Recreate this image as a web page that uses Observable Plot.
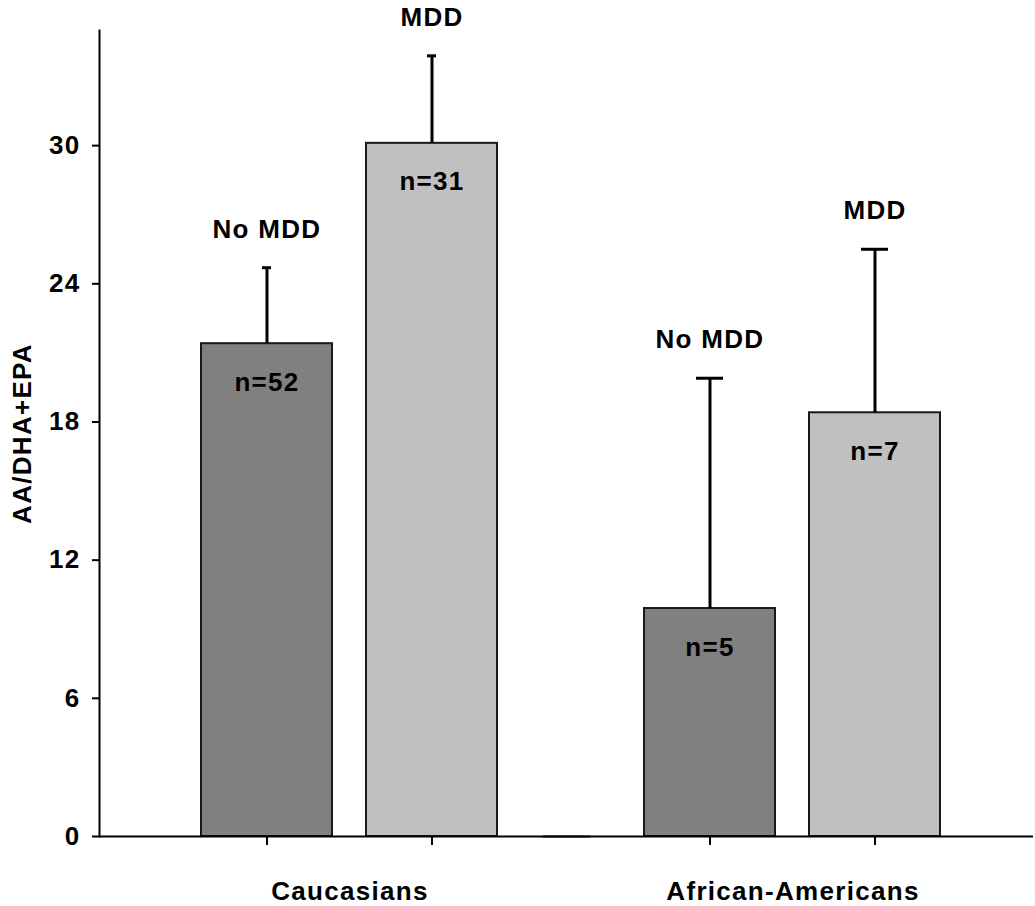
<!DOCTYPE html>
<html><head><meta charset="utf-8">
<script src="https://cdn.jsdelivr.net/npm/d3@7"></script>
<script src="https://cdn.jsdelivr.net/npm/@observablehq/plot@0.6"></script>
<style>body{margin:0;background:#fff}</style>
</head><body><div id="chart"></div>
<script>
// Data
const groups = ["Caucasians", "African-Americans"];
const statuses = ["No MDD", "MDD"];
const barGroup = ["Caucasians", "Caucasians", "African-Americans", "African-Americans"];
const barStatus = ["No MDD", "MDD", "No MDD", "MDD"];
const means = [21.4, 30.1, 9.9, 18.4];
const errors = [3.3, 3.8, 10.0, 7.1];
const nLabels = ["n=52", "n=31", "n=5", "n=7"];
const yTicks = [0, 6, 12, 18, 24, 30];
const yLabel = "AA/DHA+EPA";

const data = means.map((m, i) => ({
  group: barGroup[i], status: barStatus[i], mean: m, top: m + errors[i], n: nLabels[i]
}));

const chart = Plot.plot({
  width: 1035,
  height: 906,
  marginLeft: 99,
  marginRight: 0,
  marginTop: 30,
  marginBottom: 70,
  style: {fontFamily: "'Liberation Sans', Arial, sans-serif", fontSize: "26px", fontWeight: "bold", letterSpacing: "1.3px", color: "#000", background: "#fff"},
  fx: {domain: groups, paddingInner: 0, paddingOuter: 0.0541, align: 0, axis: null, label: null},
  x: {domain: statuses, paddingInner: 0.2048, paddingOuter: 0.4399, align: 0.6918, axis: null, label: null},
  y: {domain: [0, 35], axis: null},
  color: {domain: statuses, range: ["#808080", "#c0c0c0"]},
  marks: [
    Plot.barY(data, {fx: "group", x: "status", y: "mean", fill: "status", stroke: "#1a1a1a", strokeWidth: 2}),
    Plot.ruleX(data, {fx: "group", x: "status", y1: "mean", y2: "top", stroke: "#000", strokeWidth: 3}),
    Plot.tickY(data.filter(d => d.group === "Caucasians"), {fx: "group", x: "status", y: "top", stroke: "#000", strokeWidth: 3, insetLeft: 61, insetRight: 61}),
    Plot.tickY(data.filter(d => d.group === "African-Americans"), {fx: "group", x: "status", y: "top", stroke: "#000", strokeWidth: 3, insetLeft: 52, insetRight: 52}),
    Plot.text(data, {fx: "group", x: "status", y: "top", text: "status", lineAnchor: "bottom", dy: -30}),
    Plot.text(data, {fx: "group", x: "status", y: "mean", text: "n", lineAnchor: "bottom", dy: 47}),
    Plot.ruleY([0], {stroke: "#000", strokeWidth: 2, insetRight: -48}),
    Plot.frame({anchor: "left", facetAnchor: "left", stroke: "#000", strokeWidth: 2}),
    Plot.axisY(yTicks, {tickSize: 7, tickPadding: 12, strokeWidth: 2, label: yLabel, labelAnchor: "center", labelOffset: 87, labelArrow: "none"}),
    Plot.axisX({tickSize: 9, tickFormat: () => "", strokeWidth: 2, label: null}),
    Plot.text(groups, {fx: d => d, text: d => d, frameAnchor: "bottom", lineAnchor: "bottom", dy: 63, dx: 29})
  ]
});
document.getElementById("chart").appendChild(chart);
</script>
</body></html>
